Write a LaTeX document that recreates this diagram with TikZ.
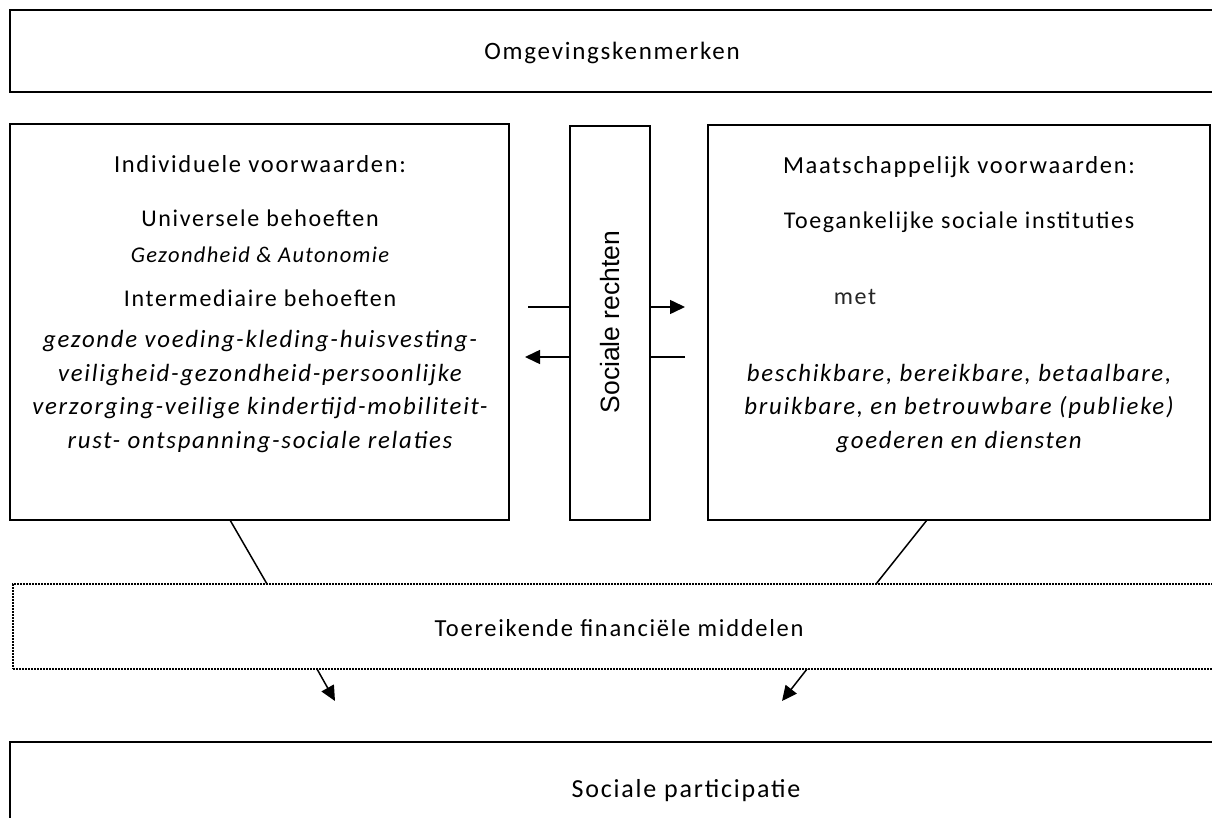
\documentclass[tikz,border=0pt]{standalone}
\usepackage{fontspec}
\setmainfont{Carlito}
\newfontfamily\arialf{Liberation Sans}
\usetikzlibrary{arrows.meta,calc}
\begin{document}
\begin{tikzpicture}[x=1pt,y=-1pt,
  box/.style={draw=black, line width=2pt, fill=white, inner sep=0pt, outer sep=0pt, anchor=north west},
  dotbox/.style={draw=black, line width=1.6pt, dash pattern=on 1.6pt off 1.4pt, fill=white, inner sep=0pt, outer sep=0pt, anchor=north west},
  txt/.style={inner sep=0pt, anchor=base, font=\fontsize{24}{28}\selectfont\addfontfeature{LetterSpace=7}},
  itxt/.style={inner sep=0pt, anchor=base, font=\fontsize{24.8}{28}\selectfont\itshape\addfontfeature{LetterSpace=7}},
  big/.style={inner sep=0pt, anchor=base, font=\fontsize{25}{30}\selectfont\addfontfeature{LetterSpace=7}},
  conn/.style={line width=1.5pt, draw=black},
  tip/.style={-{Triangle[length=15pt,width=14pt]}}
]
\clip (0,0) rectangle (1212,818);
\fill[white] (0,0) rectangle (1212,818);

% boxes
\node[box, minimum width=1204pt, minimum height=82pt] (env) at (10,10) {};
\node[box, minimum width=499pt, minimum height=396pt] (indiv) at (10,124) {};
\node[box, minimum width=80pt, minimum height=394pt] (rights) at (570,126) {};
\node[box, minimum width=502pt, minimum height=395pt] (maat) at (708,125) {};
\node[dotbox, minimum width=1210pt, minimum height=85pt] (fin) at (13,584) {};
\node[box, minimum width=1204pt, minimum height=100pt] (part) at (10,742) {};

% texts
\node[big] (tenv) at (612,60) {Omgevingskenmerken};

\node[txt, font=\fontsize{24.5}{28}\selectfont\addfontfeature{LetterSpace=7}] (i1) at (260,173) {Individuele voorwaarden:};
\node[txt] (i2) at (260,227) {Universele behoeften};
\node[itxt, font=\fontsize{22.5}{26}\selectfont\itshape\addfontfeature{LetterSpace=6}] (i3) at (260,263) {Gezondheid \& Autonomie};
\node[txt] (i4) at (260,306) {Intermediaire behoeften};
\node[itxt] (i5) at (260,347) {gezonde voeding-kleding-huisvesting-};
\node[itxt] (i6) at (260,381) {veiligheid-gezondheid-persoonlijke};
\node[itxt] (i7) at (260,414) {verzorging-veilige kindertijd-mobiliteit-};
\node[itxt] (i8) at (260,448) {rust- ontspanning-sociale relaties};

\node[txt, font=\fontsize{24.5}{28}\selectfont\addfontfeature{LetterSpace=7}] (m1) at (959,174) {Maatschappelijk voorwaarden:};
\node[txt] (m2) at (959,229) {Toegankelijke sociale instituties};
\node[txt, text=black!85] (m3) at (855,305) {met};
\node[itxt] (m4) at (959,381) {beschikbare, bereikbare, betaalbare,};
\node[itxt] (m5) at (959,414) {bruikbare, en betrouwbare (publieke)};
\node[itxt] (m6) at (959,448) {goederen en diensten};

\node[inner sep=0pt, rotate=90, font=\arialf\fontsize{26.5}{30}\selectfont] (trights) at (610,322) {Sociale rechten};

\node[big, font=\fontsize{24.5}{30}\selectfont\addfontfeature{LetterSpace=7}] (tfin) at (619,636) {Toereikende financiële middelen};
\node[big, font=\fontsize{26}{32}\selectfont\addfontfeature{LetterSpace=7}] (tpart) at (686,797) {Sociale participatie};

% horizontal arrows through Sociale rechten
\coordinate (a1s) at (528,307);
\coordinate (a1e) at (685,307);
\coordinate (a2s) at (685,357);
\coordinate (a2e) at (525,357);
\draw[conn] (a1s) -- (a1s -| rights.west);
\draw[conn, tip] (rights.east |- a1e) -- (a1e);
\draw[conn] (a2s) -- (a2s -| rights.east);
\draw[conn, tip] (rights.west |- a2e) -- (a2e);

% diagonal connectors
\coordinate (d1a) at (230,520);
\coordinate (d1b) at (267,584);
\coordinate (d2a) at (927,520);
\coordinate (d2b) at (876,584);
\draw[conn] (d1a) -- (d1b);
\draw[conn] (d2a) -- (d2b);

\coordinate (e1a) at (317,669);
\coordinate (e1b) at (335,701);
\coordinate (e2a) at (807,669);
\coordinate (e2b) at (782,701);
\draw[conn, tip] (e1a) -- (e1b);
\draw[conn, tip] (e2a) -- (e2b);
\end{tikzpicture}
\end{document}
